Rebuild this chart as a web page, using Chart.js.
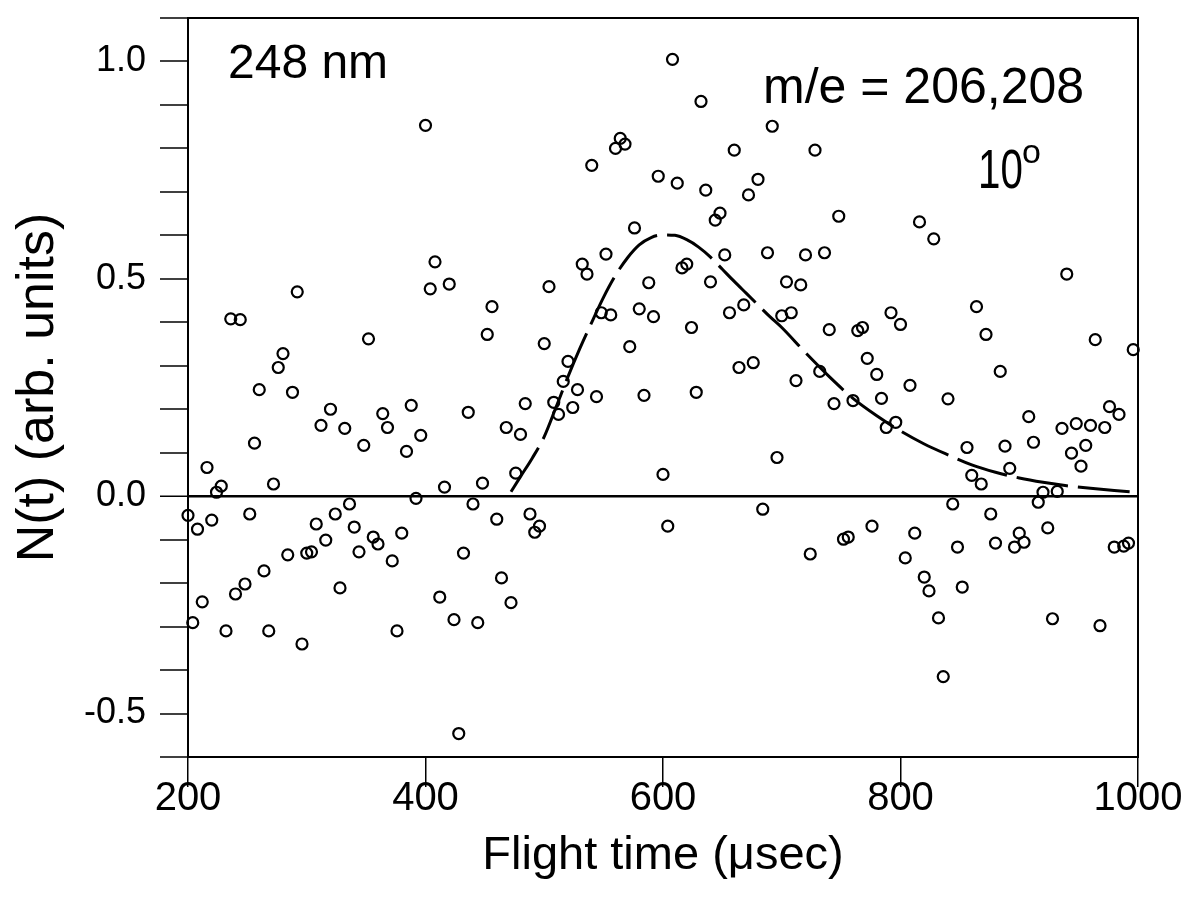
<!DOCTYPE html>
<html>
<head>
<meta charset="utf-8">
<title>N(t) vs flight time</title>
<script src="https://cdn.jsdelivr.net/npm/chart.js@4.4.1/dist/chart.umd.min.js"></script>
<style>
  html, body { margin: 0; padding: 0; background: #fff; }
  canvas { display: block; }
</style>
</head>
<body>
<canvas id="tof" width="1182" height="908"></canvas>
<script>
const flightTimes = [
  200, 204, 208, 212, 216, 220, 224, 228, 232, 236, 240, 244, 248, 252, 256, 260, 264, 268, 272, 276,
  280, 284, 288, 292, 296, 300, 304, 308, 312, 316, 320, 324, 328, 332, 336, 340, 344, 348, 352, 356,
  360, 364, 368, 372, 376, 380, 384, 388, 392, 396, 400, 404, 408, 412, 416, 420, 424, 428, 432, 436,
  440, 444, 448, 452, 456, 460, 464, 468, 472, 476, 480, 484, 488, 492, 496, 500, 504, 508, 512, 516,
  520, 524, 528, 532, 536, 540, 544, 548, 552, 556, 560, 564, 568, 572, 576, 580, 584, 588, 592, 596,
  600, 604, 608, 612, 616, 620, 624, 628, 632, 636, 640, 644, 648, 652, 656, 660, 664, 668, 672, 676,
  680, 684, 688, 692, 696, 700, 704, 708, 712, 716, 720, 724, 728, 732, 736, 740, 744, 748, 752, 756,
  760, 764, 768, 772, 776, 780, 784, 788, 792, 796, 800, 804, 808, 812, 816, 820, 824, 828, 832, 836,
  840, 844, 848, 852, 856, 860, 864, 868, 872, 876, 880, 884, 888, 892, 896, 900, 904, 908, 912, 916,
  920, 924, 928, 932, 936, 940, 944, 948, 952, 956, 960, 964, 968, 972, 976, 980, 984, 988, 992, 996
];
// N(t) for each point
const signal = [
  -0.044, -0.291, -0.076, -0.243, 0.066, -0.055, 0.009, 0.023, -0.31, 0.408, -0.225, 0.406, -0.202, -0.041, 0.122, 0.245, -0.172, -0.31, 0.028, 0.296,
  0.328, -0.135, 0.239, 0.47, -0.34, -0.131, -0.128, -0.064, 0.163, -0.101, 0.2, -0.041, -0.211, 0.156, -0.018, -0.071, -0.128, 0.117, 0.362, -0.094,
  -0.11, 0.19, 0.158, -0.149, -0.31, -0.085, 0.103, 0.209, -0.005, 0.14, 0.853, 0.477, 0.539, -0.232, 0.021, 0.488, -0.284, -0.546, -0.131, 0.193,
  -0.018, -0.291, 0.03, 0.372, 0.436, -0.053, -0.188, 0.158, -0.245, 0.053, 0.142, 0.213, -0.041, -0.083, -0.069, 0.351, 0.482, 0.216, 0.188, 0.264,
  0.31, 0.204, 0.245, 0.534, 0.511, 0.761, 0.229, 0.422, 0.557, 0.417, 0.8, 0.823, 0.81, 0.344, 0.617, 0.431, 0.232, 0.491, 0.413, 0.736,
  0.05, -0.069, 1.005, 0.72, 0.525, 0.534, 0.388, 0.239, 0.908, 0.704, 0.493, 0.635, 0.651, 0.555, 0.422, 0.796, 0.296, 0.44, 0.693, 0.307,
  0.729, -0.03, 0.56, 0.851, 0.089, 0.415, 0.493, 0.422, 0.266, 0.486, 0.555, -0.133, 0.796, 0.287, 0.56, 0.383, 0.213, 0.644, -0.099, -0.094,
  0.22, 0.381, 0.388, 0.317, -0.069, 0.28, 0.225, 0.158, 0.422, 0.17, 0.395, -0.142, 0.255, -0.085, 0.631, -0.186, -0.218, 0.592, -0.28, -0.415,
  0.224, -0.018, -0.117, -0.209, 0.112, 0.048, 0.436, 0.028, 0.372, -0.041, -0.108, 0.287, 0.115, 0.064, -0.117, -0.085, -0.106, 0.183, 0.124, -0.014,
  0.009, -0.073, -0.282, 0.011, 0.156, 0.511, 0.099, 0.167, 0.069, 0.117, 0.163, 0.36, -0.298, 0.158, 0.206, -0.117, 0.188, -0.115, -0.108, 0.337
];

// dashed fit curve
const fitTimes = [472, 480, 490, 500, 510, 520, 530, 540, 550, 560, 570, 580, 590, 600, 610, 620, 630, 640, 650, 660,
  670, 680, 690, 700, 720, 740, 760, 780, 800, 820, 840, 860, 880, 900, 920, 940, 960, 980, 1000];
const fitValues = [0.01, 0.045, 0.088, 0.137, 0.205, 0.275, 0.34, 0.4, 0.458, 0.508, 0.548, 0.578, 0.595, 0.601, 0.6, 0.59, 0.573, 0.55, 0.522, 0.494,
  0.467, 0.44, 0.413, 0.388, 0.33, 0.275, 0.225, 0.185, 0.15, 0.12, 0.095, 0.072, 0.055, 0.042, 0.032, 0.024, 0.018, 0.013, 0.009];

const yLabelled = [-0.5, 0.0, 0.5, 1.0];

const SANS = '"Liberation Sans", Arial, sans-serif';

function isZero(v) { return Math.abs(v) < 1e-9; }

// text squeezed sideways, the lettering on the original is a narrow face
function narrowText(ctx, text, x, y, size, squeeze) {
  ctx.save();
  ctx.font = size + 'px ' + SANS;
  ctx.translate(x, y);
  ctx.scale(squeeze, 1);
  ctx.fillText(text, 0, 0);
  ctx.restore();
}

// frame round the plot + the text written inside it
const extras = {
  id: 'extras',
  afterDraw(chart) {
    const ctx = chart.ctx;
    const a = chart.chartArea;
    ctx.save();
    ctx.strokeStyle = '#000';
    ctx.lineWidth = 2;
    ctx.strokeRect(a.left, a.top, a.right - a.left, a.bottom - a.top);
    ctx.fillStyle = '#000';
    ctx.textBaseline = 'alphabetic';
    ctx.font = '48px ' + SANS;
    ctx.fillText('248 nm', 228, 78);
    ctx.font = '50px ' + SANS;
    ctx.fillText('m/e = 206,208', 763, 103);
    narrowText(ctx, '10', 978, 188, 56, 0.72);
    ctx.font = '34px ' + SANS;
    ctx.fillText('o', 1022, 163);
    ctx.restore();
  }
};

new Chart(document.getElementById('tof'), {
  type: 'scatter',
  data: {
    datasets: [{
      data: flightTimes.map((t, i) => ({ x: t, y: signal[i] })),
      pointStyle: 'circle',
      pointRadius: 5.5,
      pointBorderWidth: 2.2,
      borderColor: '#000',
      backgroundColor: 'rgba(0,0,0,0)',
      clip: false
    }, {
      type: 'line',
      data: fitTimes.map((t, i) => ({ x: t, y: fitValues[i] })),
      borderColor: '#000',
      borderWidth: 3,
      borderDash: [52, 10],
      pointRadius: 0,
      cubicInterpolationMode: 'monotone',
      fill: false
    }]
  },
  options: {
    responsive: false,
    animation: false,
    devicePixelRatio: 1,
    layout: { padding: { top: 18, right: 44, left: 0, bottom: 0 } },
    plugins: { legend: { display: false }, tooltip: { enabled: false } },
    scales: {
      x: {
        type: 'linear',
        min: 200,
        max: 1000,
        afterFit(s) { s.height = 151; s.paddingLeft = 0; s.paddingRight = 0; },
        ticks: {
          stepSize: 200,
          padding: -12,
          maxRotation: 0,
          color: '#000',
          font: { family: SANS, size: 40 },
          callback: v => String(v)
        },
        grid: { drawOnChartArea: false, tickLength: 30, tickColor: '#000', tickWidth: 1.5, lineWidth: 1.5 },
        border: { display: false },
        title: { display: true, text: 'Flight time (\u03bcsec)', color: '#000', font: { family: SANS, size: 47 }, padding: { top: 0, bottom: 24 } }
      },
      y: {
        min: -0.6,
        max: 1.1,
        afterFit(s) { s.width = 188; s.paddingTop = 0; s.paddingBottom = 0; },
        ticks: {
          stepSize: 0.1,
          autoSkip: false,
          padding: 14,
          color: '#000',
          font: { family: SANS, size: 36 },
          callback: v => yLabelled.some(l => Math.abs(l - v) < 1e-6) ? v.toFixed(1) : ''
        },
        grid: {
          drawOnChartArea: true,
          color: c => isZero(c.tick.value) ? '#000' : 'rgba(0,0,0,0)',
          lineWidth: c => isZero(c.tick.value) ? 2.5 : 0,
          tickColor: '#000',
          tickWidth: 1.5,
          tickLength: 28
        },
        border: { display: false },
        title: { display: true, text: 'N(t) (arb. units)', color: '#000', font: { family: SANS, size: 52 }, padding: { top: 7, bottom: 0 } }
      }
    }
  },
  plugins: [extras]
});
</script>
</body>
</html>
